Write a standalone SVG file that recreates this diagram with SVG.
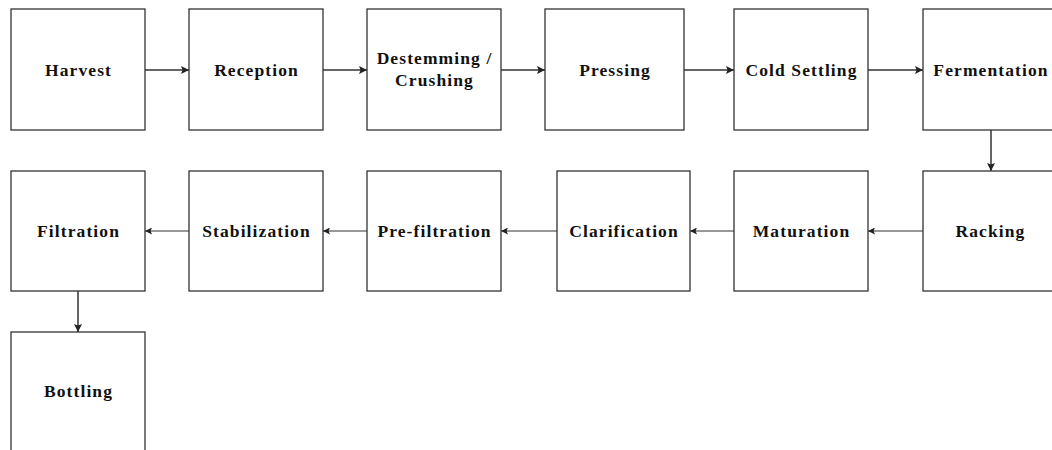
<svg xmlns="http://www.w3.org/2000/svg" width="1052" height="450" viewBox="0 0 1052 450">
<style>
.box{fill:#fff;stroke:#333;stroke-width:1.3}
.lbl{font-family:"Liberation Serif","Times New Roman",serif;font-weight:bold;font-size:17.5px;letter-spacing:1.1px;fill:#111;text-anchor:middle}
.c1{fill:none;stroke:#333;stroke-width:1.5}
.c2{fill:none;stroke:#333;stroke-width:1}
</style>
<defs>
<marker id="ah" viewBox="0 0 10 10" refX="10" refY="5" markerUnits="userSpaceOnUse" markerWidth="9" markerHeight="8" orient="auto">
<path d="M0,0 L10,5 L0,10 L2,5 Z" fill="#222"/>
</marker>
<marker id="ah2" viewBox="0 0 10 10" refX="10" refY="5" markerUnits="userSpaceOnUse" markerWidth="7" markerHeight="7" orient="auto">
<path d="M0,0 L10,5 L0,10 L2,5 Z" fill="#222"/>
</marker>
</defs>
<rect width="1052" height="450" fill="#fff"/>
<g id="connectors">
<line class="c1" x1="145" y1="70" x2="189" y2="70" marker-end="url(#ah)"/>
<line class="c1" x1="323" y1="70" x2="367" y2="70" marker-end="url(#ah)"/>
<line class="c1" x1="501" y1="70" x2="545" y2="70" marker-end="url(#ah)"/>
<line class="c1" x1="684" y1="70" x2="734" y2="70" marker-end="url(#ah)"/>
<line class="c1" x1="868" y1="70" x2="923" y2="70" marker-end="url(#ah)"/>
<line class="c1" x1="991" y1="130" x2="991" y2="171" marker-end="url(#ah)"/>
<line class="c2" x1="923" y1="231" x2="868" y2="231" marker-end="url(#ah2)"/>
<line class="c2" x1="734" y1="231" x2="690" y2="231" marker-end="url(#ah2)"/>
<line class="c2" x1="557" y1="231" x2="501" y2="231" marker-end="url(#ah2)"/>
<line class="c2" x1="367" y1="231" x2="323" y2="231" marker-end="url(#ah2)"/>
<line class="c2" x1="189" y1="231" x2="145" y2="231" marker-end="url(#ah2)"/>
<line class="c1" x1="78" y1="291" x2="78" y2="332" marker-end="url(#ah)"/>
</g>
<g id="harvest"><rect class="box" x="11" y="9" width="134" height="121"/><text class="lbl" x="78.5" y="75.5">Harvest</text></g>
<g id="reception"><rect class="box" x="189" y="9" width="134" height="121"/><text class="lbl" x="256.5" y="75.5">Reception</text></g>
<g id="destemming"><rect class="box" x="367" y="9" width="134" height="121"/><text class="lbl" x="434.5" y="64">Destemming /</text><text class="lbl" x="434.5" y="85.5">Crushing</text></g>
<g id="pressing"><rect class="box" x="545" y="9" width="139" height="121"/><text class="lbl" x="615" y="75.5">Pressing</text></g>
<g id="cold-settling"><rect class="box" x="734" y="9" width="134" height="121"/><text class="lbl" x="801.5" y="75.5">Cold Settling</text></g>
<g id="fermentation"><rect class="box" x="923" y="9" width="136" height="121"/><text class="lbl" x="991" y="75.5">Fermentation</text></g>
<g id="racking"><rect class="box" x="923" y="171" width="136" height="120"/><text class="lbl" x="990.5" y="236.5">Racking</text></g>
<g id="maturation"><rect class="box" x="734" y="171" width="134" height="120"/><text class="lbl" x="801.5" y="236.5">Maturation</text></g>
<g id="clarification"><rect class="box" x="557" y="171" width="133" height="120"/><text class="lbl" x="624" y="236.5">Clarification</text></g>
<g id="pre-filtration"><rect class="box" x="367" y="171" width="134" height="120"/><text class="lbl" x="434.5" y="236.5">Pre-filtration</text></g>
<g id="stabilization"><rect class="box" x="189" y="171" width="134" height="120"/><text class="lbl" x="256.5" y="236.5">Stabilization</text></g>
<g id="filtration"><rect class="box" x="11" y="171" width="134" height="120"/><text class="lbl" x="78.5" y="236.5">Filtration</text></g>
<g id="bottling"><rect class="box" x="11" y="332" width="134" height="125"/><text class="lbl" x="78.5" y="397">Bottling</text></g>
</svg>
